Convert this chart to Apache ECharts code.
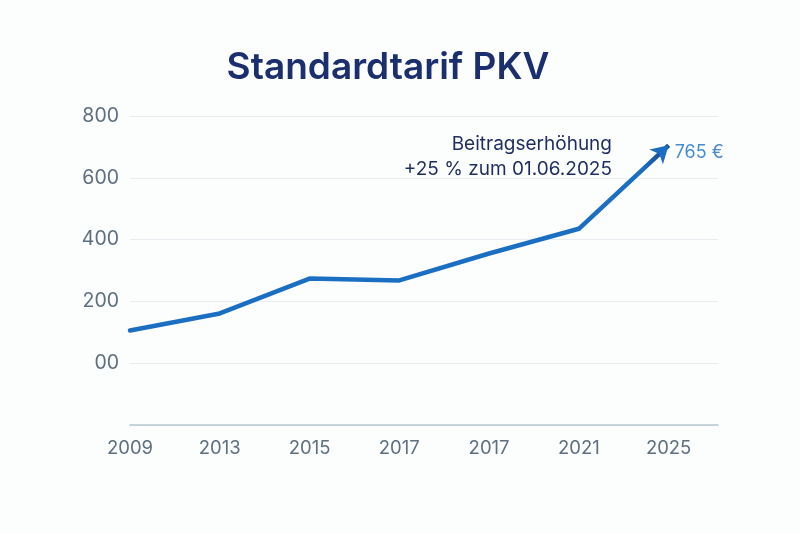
<!DOCTYPE html>
<html>
<head>
<meta charset="utf-8">
<script src="https://cdn.jsdelivr.net/npm/echarts@6/dist/echarts.min.js"></script>
<style>
html, body { margin: 0; padding: 0; background: #fcfdfd; }
#main { width: 800px; height: 533px; }
</style>
</head>
<body>
<div id="main"></div>
<script>
// Daten
var years = ['2009', '2013', '2015', '2017', '2017', '2021', '2025'];
var beitrag = [106, 161, 274, 268, 355, 435, 705];
var yTicks = [-200, 0, 200, 400, 600, 800];
var endLabel = '765 €';
var note = ['Beitragserhöhung', '+25 % zum 01.06.2025'];

var points = beitrag.map(function (v, i) { return [i, v]; });
var last = points.length - 1;

var myChart = echarts.init(document.getElementById('main'));
var font = 'Inter, "Noto Sans", sans-serif';

var option = {
	backgroundColor: '#fcfdfd',
	title: {
		text: 'Standardtarif PKV',
		left: 383,
		top: 44,
		textAlign: 'center',
		textStyle: { fontFamily: font, fontSize: 37, fontWeight: 600, color: '#1b2f6e' }
	},
	grid: { left: 130, right: 82, top: 116, bottom: 108 },
	xAxis: {
		type: 'value',
		min: 0,
		max: 6.55,
		interval: 1,
		splitLine: { show: false },
		axisTick: { show: false },
		axisLine: { show: true, onZero: false, lineStyle: { color: '#b7c7d3', width: 1.5 } },
		axisLabel: {
			showMaxLabel: false,
			margin: 14,
			fontFamily: font,
			fontSize: 18.5,
			color: '#5e6f80',
			formatter: function (v) { return Number.isInteger(v) ? (years[v] || '') : ''; }
		}
	},
	yAxis: {
		type: 'value',
		min: yTicks[0],
		max: yTicks[yTicks.length - 1],
		interval: 200,
		axisLine: { show: false },
		axisTick: { show: false },
		splitLine: { lineStyle: { color: '#e7edf1', width: 1 } },
		axisLabel: {
			margin: 11,
			fontFamily: font,
			fontSize: 19.5,
			color: '#5e6f80',
			formatter: function (v) { return v < 0 ? '' : (v === 0 ? '00' : String(v)); }
		}
	},
	graphic: [{
		type: 'text',
		x: 612,
		y: 132,
		style: {
			text: note.join('\n'),
			align: 'right',
			fontFamily: font,
			fontSize: 19,
			lineHeight: 25,
			fill: '#1d2d5f'
		}
	}],
	series: [{
		type: 'line',
		data: points.slice(0, last),
		symbol: 'none',
		lineStyle: { color: '#1b6fc2', width: 4.5, cap: 'round', join: 'round' },
		silent: true,
		markLine: {
			silent: true,
			symbol: ['none', 'arrow'],
			symbolSize: [15, 17],
			label: { show: false },
			lineStyle: {
				width: 4.5,
				type: 'solid',
				color: {
					type: 'linear', x: 0, y: 1, x2: 1, y2: 0,
					colorStops: [{ offset: 0, color: '#1b6fc2' }, { offset: 0.7, color: '#1b6fc2' }, { offset: 1, color: '#123d88' }]
				}
			},
			data: [[{ coord: points[last - 1] }, { coord: points[last] }]]
		}
	}, {
		type: 'scatter',
		data: [points[last]],
		symbolSize: 0,
		silent: true,
		label: {
			show: true,
			position: 'right',
			distance: 6,
			offset: [0, 7],
			formatter: endLabel,
			fontFamily: font,
			fontSize: 18,
			color: '#1b6fc2'
		}
	}]
};
myChart.setOption(option);
</script>
</body>
</html>
